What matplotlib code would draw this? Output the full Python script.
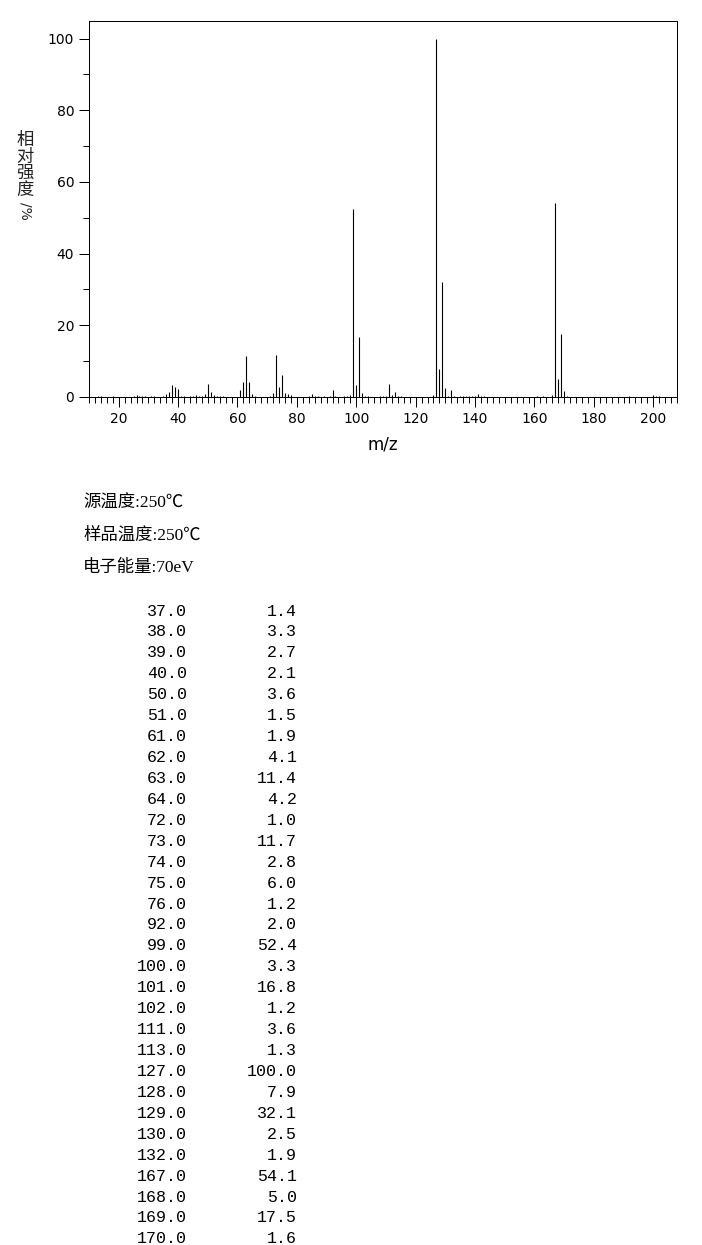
import matplotlib
matplotlib.use("Agg")
import matplotlib.pyplot as plt
from matplotlib.ticker import MultipleLocator

# ---- data -------------------------------------------------------------
# peaks listed in the table (m/z, relative intensity %)
table_mz = [37.0, 38.0, 39.0, 40.0, 50.0, 51.0, 61.0, 62.0, 63.0, 64.0, 72.0,
            73.0, 74.0, 75.0, 76.0, 92.0, 99.0, 100.0, 101.0, 102.0, 111.0,
            113.0, 127.0, 128.0, 129.0, 130.0, 132.0, 167.0, 168.0, 169.0, 170.0]
table_int = [1.4, 3.3, 2.7, 2.1, 3.6, 1.5, 1.9, 4.1, 11.4, 4.2, 1.0,
             11.7, 2.8, 6.0, 1.2, 2.0, 52.4, 3.3, 16.8, 1.2, 3.6,
             1.3, 100.0, 7.9, 32.1, 2.5, 1.9, 54.1, 5.0, 17.5, 1.6]

# small peaks (< 1 %) visible in the spectrum but not listed in the table
minor_mz = [13, 14, 18, 25, 26, 27, 28, 29, 31, 32, 35, 36, 41, 42, 44, 45, 46,
            47, 48, 49, 52, 53, 54, 55, 65, 66, 71, 77, 78, 84, 85, 86, 87, 89,
            91, 93, 96, 97, 98, 103, 104, 108, 109, 110, 112, 114, 115, 126,
            131, 133, 135, 136, 137, 138, 139, 140, 141, 142, 143, 161, 163,
            166, 171, 192, 200, 201, 202]
minor_int = [0.3, 0.3, 0.3, 0.4, 0.6, 0.4, 0.4, 0.3, 0.3, 0.3, 0.4, 0.7, 0.3,
             0.3, 0.3, 0.3, 0.5, 0.4, 0.3, 0.8, 0.5, 0.4, 0.3, 0.3, 0.7, 0.3,
             0.3, 0.9, 0.5, 0.4, 0.8, 0.4, 0.4, 0.3, 0.3, 0.4, 0.3, 0.3, 0.6,
             0.4, 0.4, 0.3, 0.3, 0.3, 0.6, 0.3, 0.3, 0.6, 0.4, 0.4, 0.3, 0.3,
             0.3, 0.3, 0.3, 0.3, 0.8, 0.3, 0.3, 0.3, 0.4, 0.5, 0.4, 0.3, 0.6,
             0.3, 0.3]

info_lines = ["源温度:250℃", "样品温度:250℃", "电子能量:70eV"]
x_label = "m/z"
y_label_chars = "相对强度"
y_label_unit = "/%"

# ---- figure -----------------------------------------------------------
W, H = 702, 1245
fig = plt.figure(figsize=(W / 100, H / 100), dpi=100)
fig.patch.set_facecolor("white")

px = 0.72  # one pixel in points
ax = fig.add_axes([89 / W, 1 - 397 / H, (677 - 89) / W, (397 - 21) / H])

ax.vlines(minor_mz, 0, minor_int, color="black", linewidth=0.8)
ax.vlines(table_mz, 0, table_int, color="black", linewidth=0.8)

ax.set_xlim(10, 208)
ax.set_ylim(0, 104.9)
ax.xaxis.set_major_locator(MultipleLocator(20))
ax.xaxis.set_minor_locator(MultipleLocator(2))
ax.yaxis.set_major_locator(MultipleLocator(20))
ax.yaxis.set_minor_locator(MultipleLocator(10))
ax.tick_params(which="major", direction="out", length=10 * px, width=px,
               labelsize=10, pad=3.5, colors="black")
ax.tick_params(which="minor", direction="out", length=6 * px, width=px)
ax.tick_params(top=False, right=False)
for s in ax.spines.values():
    s.set_linewidth(px)
    s.set_color("black")

for lab in ax.get_xticklabels() + ax.get_yticklabels():
    lab.set_family("DejaVu Sans")

ax.set_xlabel(x_label, fontsize=12, family="DejaVu Sans", labelpad=7)

# vertical y label (characters stacked, unit rotated)
fig.text(25 / W, 1 - 131 / H, "\n".join(y_label_chars), ha="center",
         va="top", fontsize=12.5, linespacing=0.9,
         family=["Noto Sans CJK SC", "DejaVu Sans"], color="#222222")
fig.text(25 / W, 1 - 211 / H, y_label_unit, ha="center", va="center",
         rotation=-90, fontsize=10, family="DejaVu Sans", color="#222222")

# info lines
for i, line in enumerate(info_lines):
    fig.text(83 / W, 1 - (504 + 32 * i) / H, line, ha="left", va="center",
             fontsize=12.5,
             family=["Liberation Serif", "Noto Sans CJK SC", "DejaVu Sans"])

# peak table
row0, row_step = 611, 20.93
for i, (m, v) in enumerate(zip(table_mz, table_int)):
    y = 1 - (row0 + row_step * i) / H
    fig.text(187 / W, y, f"{m:.1f}", ha="right", va="center", fontsize=12,
             family="Liberation Mono")
    fig.text(297 / W, y, f"{v:.1f}", ha="right", va="center", fontsize=12,
             family="Liberation Mono")

fig.savefig("out.png", dpi=100, facecolor="white")
